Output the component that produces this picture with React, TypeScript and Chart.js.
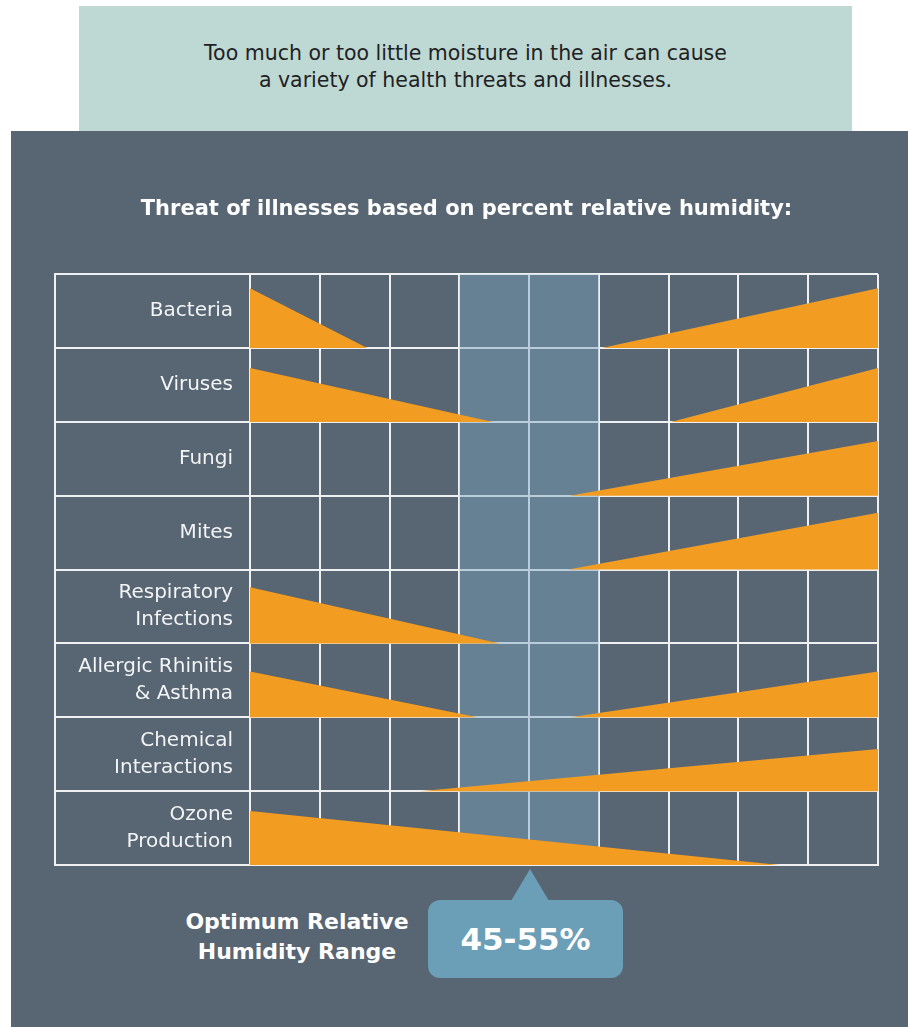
import React, { useEffect, useRef } from 'react';
import { Chart, registerables } from 'chart.js';

Chart.register(...registerables);

// ---------- data ----------
const CATEGORIES: (string | string[])[] = [
  'Bacteria',
  'Viruses',
  'Fungi',
  'Mites',
  ['Respiratory', 'Infections'],
  ['Allergic Rhinitis', '& Asthma'],
  ['Chemical', 'Interactions'],
  ['Ozone', 'Production'],
];
// humidity axis expressed in grid columns (0 = driest, 9 = most humid)
const COLUMN_MIN = 0;
const COLUMN_MAX = 9;
const OPTIMUM_RANGE = [3, 5];
// threat at low humidity: column where it fades out, and its peak level (share of row)
const DRY_END: (number | null)[] = [1.68, 3.48, null, null, 3.58, 3.26, null, 7.59];
const DRY_LEVEL: number[] = [0.81, 0.73, 0, 0, 0.76, 0.62, 0, 0.73];
// threat at high humidity: column where it starts, and its peak level (share of row)
const HUMID_START: (number | null)[] = [5.04, 6.03, 4.58, 4.56, null, 4.59, 2.43, null];
const HUMID_LEVEL: number[] = [0.81, 0.73, 0.74, 0.77, 0, 0.62, 0.57, 0];

const TITLE = 'Threat of illnesses based on percent relative humidity:';
const INTRO = ['Too much or too little moisture in the air can cause', 'a variety of health threats and illnesses.'];
const RANGE_LABEL = ['Optimum Relative', 'Humidity Range'];
const RANGE_VALUE = '45-55%';

// ---------- style ----------
const FONT = "'DejaVu Sans', 'Open Sans', sans-serif";
const BG = '#586572';
const ORANGE = '#f39c22';
const LINE = '#eef0f1';
const BAND = 'rgba(120,165,190,0.45)';
const CALLOUT = '#6b9fb7';

export default function App() {
  const ref = useRef<HTMLCanvasElement | null>(null);

  useEffect(() => {
    if (!ref.current) return;
    const datasets: any[] = [];
    const common = {
      type: 'line',
      xAxisID: 'x',
      yAxisID: 'yv',
      pointRadius: 0,
      borderWidth: 1,
      borderColor: 'rgba(0,0,0,0)',
      backgroundColor: ORANGE,
      tension: 0,
      order: 0,
    };
    CATEGORIES.forEach((_, i) => {
      const base = i + 1;
      const dryEnd = DRY_END[i];
      if (dryEnd !== null) {
        datasets.push({
          ...common,
          data: [
            { x: COLUMN_MIN, y: base - DRY_LEVEL[i] },
            { x: dryEnd, y: base },
          ],
          fill: { value: base },
        });
      }
      const humidStart = HUMID_START[i];
      if (humidStart !== null) {
        datasets.push({
          ...common,
          data: [
            { x: humidStart, y: base },
            { x: COLUMN_MAX, y: base - HUMID_LEVEL[i] },
          ],
          fill: { value: base },
        });
      }
    });
    datasets.push({
      ...common,
      backgroundColor: BAND,
      order: 10,
      data: [
        { x: OPTIMUM_RANGE[0], y: 0 },
        { x: OPTIMUM_RANGE[1], y: 0 },
      ],
      fill: { value: CATEGORIES.length },
    });

    const chart = new Chart(ref.current, {
      type: 'line',
      data: { datasets },
      options: {
        animation: false,
        responsive: false,
        events: [],
        layout: { padding: { left: 44, right: 30, top: 0, bottom: 16 } },
        plugins: {
          legend: { display: false },
          tooltip: { enabled: false },
          title: {
            display: true,
            text: TITLE,
            color: '#ffffff',
            font: { family: FONT, size: 21, weight: 'bold', lineHeight: 1.2 },
            padding: { top: 66, bottom: 52 },
          },
        },
        scales: {
          x: {
            type: 'linear',
            min: COLUMN_MIN,
            max: COLUMN_MAX,
            ticks: { display: false, stepSize: 1 },
            grid: { color: LINE, lineWidth: 2, drawTicks: false },
            border: { display: true, color: LINE, width: 2 },
          },
          y: {
            type: 'category',
            labels: CATEGORIES as any,
            position: 'left',
            weight: 0,
            offset: true,
            grid: { offset: true, color: LINE, lineWidth: 2, drawTicks: true, tickLength: 195 },
            border: { display: true, color: LINE, width: 2 },
            ticks: {
              color: '#f2f4f5',
              padding: -178,
              font: { family: FONT, size: 20, weight: 'normal', lineHeight: 1.35 },
            },
            afterFit: (s: any) => {
              s.width = 195;
            },
          },
          yEdge: {
            type: 'linear',
            position: 'left',
            weight: 1,
            ticks: { display: false },
            grid: { display: false, drawTicks: false },
            border: { display: true, color: LINE, width: 2 },
            afterFit: (s: any) => {
              s.width = 0;
            },
          },
          yv: {
            type: 'linear',
            display: false,
            reverse: true,
            min: 0,
            max: CATEGORIES.length,
          },
        },
      } as any,
    });
    return () => chart.destroy();
  }, []);

  return (
    <div style={{ position: 'absolute', left: 0, top: 0, width: 908, height: 1027, background: '#ffffff', overflow: 'hidden' }}>
      <div
        style={{
          position: 'absolute',
          left: 79,
          top: 6,
          width: 773,
          height: 125,
          background: '#bed8d3',
          color: '#1e2224',
          fontFamily: FONT,
          fontSize: 20.5,
          fontWeight: 400,
          lineHeight: '27px',
          textAlign: 'center',
          paddingTop: 34,
          boxSizing: 'border-box',
        }}
      >
        {INTRO.map((t) => (
          <div key={t}>{t}</div>
        ))}
      </div>
      <div style={{ position: 'absolute', left: 11, top: 131, width: 897, height: 896, background: BG }}>
        <canvas ref={ref} width={897} height={750} style={{ display: 'block' }} />
        <div
          style={{
            position: 'absolute',
            left: 136,
            top: 776,
            width: 300,
            textAlign: 'center',
            color: '#ffffff',
            fontFamily: FONT,
            fontWeight: 700,
            fontSize: 22,
            lineHeight: '30px',
          }}
        >
          {RANGE_LABEL.map((t) => (
            <div key={t}>{t}</div>
          ))}
        </div>
        <div
          style={{
            position: 'absolute',
            left: 500,
            top: 738,
            width: 0,
            height: 0,
            borderLeft: '19px solid transparent',
            borderRight: '19px solid transparent',
            borderBottom: '32px solid ' + CALLOUT,
          }}
        />
        <div
          style={{
            position: 'absolute',
            left: 417,
            top: 769,
            width: 195,
            height: 78,
            borderRadius: 12,
            background: CALLOUT,
            color: '#ffffff',
            fontFamily: FONT,
            fontWeight: 700,
            fontSize: 31,
            lineHeight: '78px',
            textAlign: 'center',
          }}
        >
          {RANGE_VALUE}
        </div>
      </div>
    </div>
  );
}
